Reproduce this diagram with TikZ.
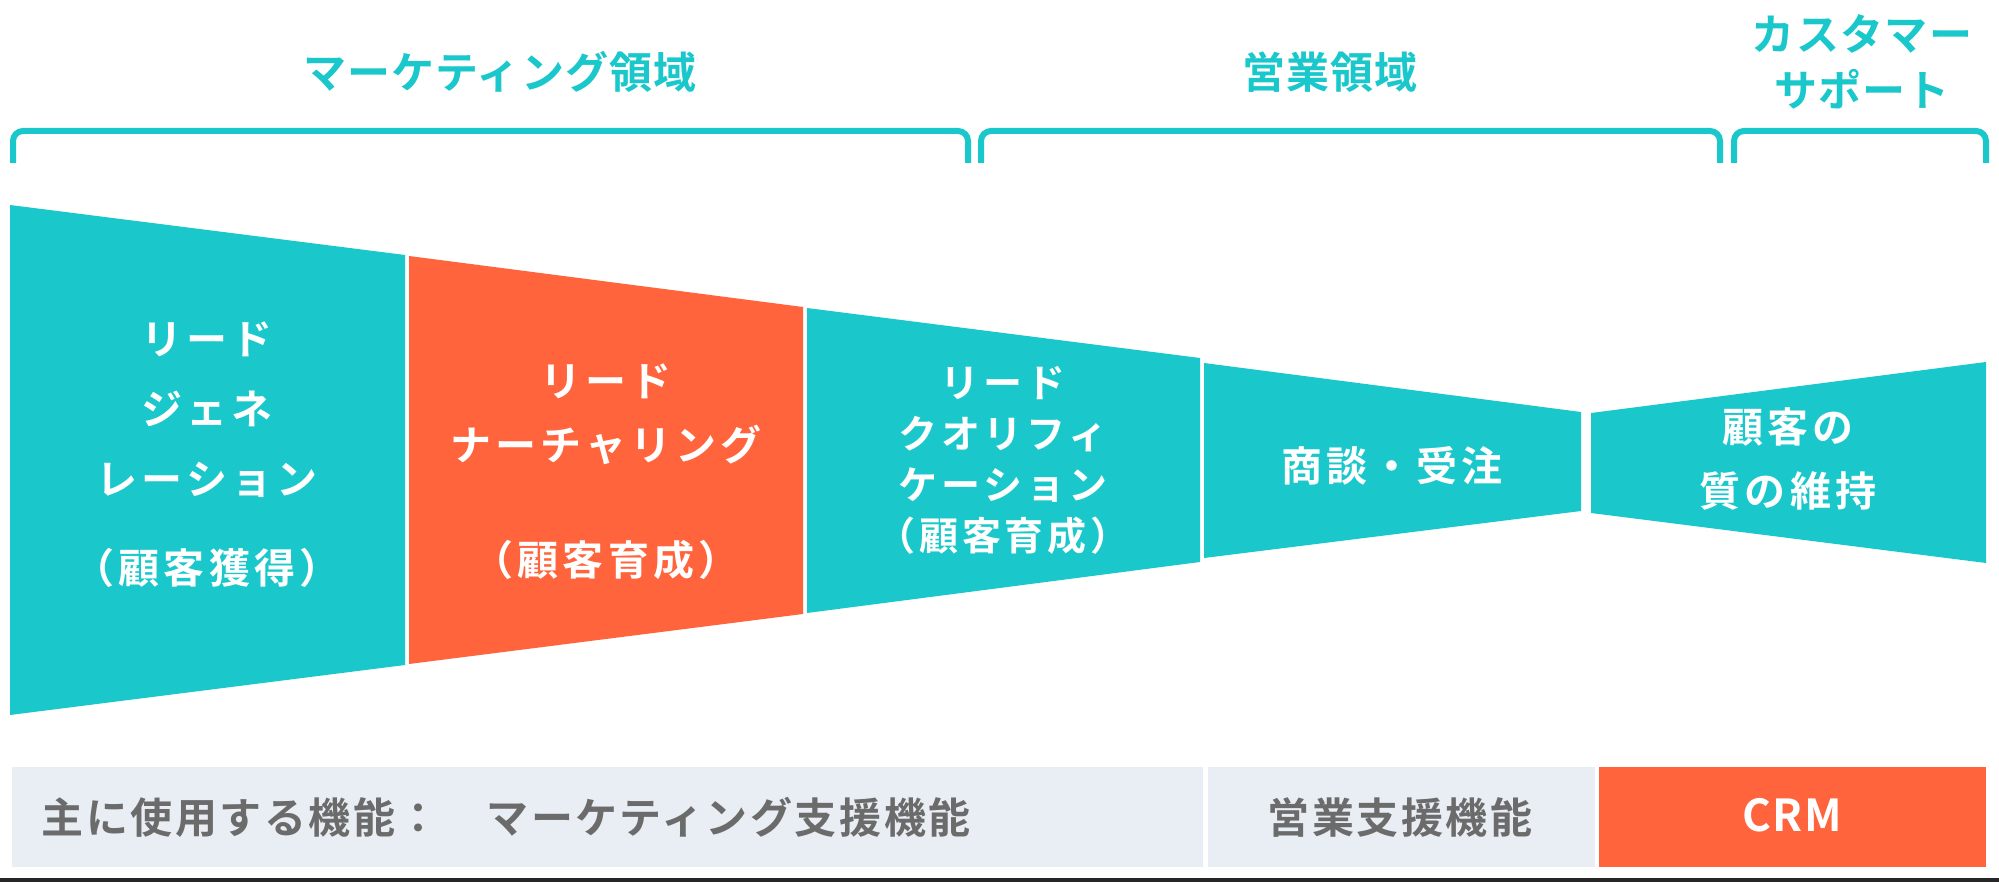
\documentclass[tikz,border=0pt]{standalone}
\usepackage{fontspec}
\setmainfont{Noto Sans CJK JP}[BoldFont={* Bold}]
\newfontfamily\jpb{Noto Sans CJK JP Bold}[LetterSpace=10]
\newfontfamily\jpt{Noto Sans CJK JP Bold}[LetterSpace=3]
\newfontfamily\jpw{Noto Sans CJK JP Bold}[LetterSpace=6]
\definecolor{teal}{HTML}{1AC8CC}
\definecolor{orng}{HTML}{FF643C}
\definecolor{barg}{HTML}{E9EEF4}
\definecolor{txtg}{HTML}{6B6B6B}
\begin{document}
\begin{tikzpicture}[x=1pt,y=-1pt,
  seg/.style={fill=teal,draw=none},
  lab/.style={text=white,font=\jpb\fontsize{41}{70}\selectfont,align=center},
  ttl/.style={text=teal,font=\jpt\fontsize{43}{56}\selectfont,align=center},
  brk/.style={draw=teal,line width=6pt,rounded corners=10pt},
  bar/.style={fill=barg,draw=none},
  btxt/.style={text=txtg,font=\jpw\fontsize{42}{48}\selectfont}]
\useasboundingbox[fill=white] (0,0) rectangle (1999,882);
% brackets
\draw[brk] (13,163) -- (13,131) -- (968,131) -- (968,163);
\draw[brk] (981,163) -- (981,131) -- (1720,131) -- (1720,163);
\draw[brk] (1734,163) -- (1734,131) -- (1986,131) -- (1986,163);
\node[ttl] (t1) at (500,72) {マーケティング領域};
\node[ttl] (t2) at (1330,72) {営業領域};
\node[ttl] (t3) at (1862,62) {カスタマー\\サポート};
% funnel
\fill[seg] (10,205) -- (405,255) -- (405,665) -- (10,715) -- cycle;
\fill[orng] (409,256) -- (803,307) -- (803,614) -- (409,664) -- cycle;
\fill[seg] (807,308) -- (1200,358) -- (1200,562) -- (807,613) -- cycle;
\fill[seg] (1204,363) -- (1581,412) -- (1581,511) -- (1204,558) -- cycle;
\fill[seg] (1591,413) -- (1986,362) -- (1986,563) -- (1591,513) -- cycle;
\node[lab] (s1) at (207,455) {リード\\ジェネ\\レーション\\[19pt]（顧客獲得）};
\node[lab,font=\jpb\fontsize{41}{64}\selectfont] (s2) at (606,472) {リード\\ナーチャリング\\[51pt]（顧客育成）};
\node[lab,font=\jpb\fontsize{39}{51}\selectfont] (s3) at (1003,460) {リード\\クオリフィ\\ケーション\\（顧客育成）};
\node[lab] (s4) at (1392,466) {商談・受注};
\node[lab,font=\jpb\fontsize{41}{64}\selectfont] (s5) at (1788,459) {顧客の\\質の維持};
% bottom bar
\fill[bar] (12,767) rectangle (1203,867);
\fill[bar] (1208,767) rectangle (1595,867);
\fill[orng] (1599,767) rectangle (1986,867);
\node[btxt,anchor=west] (b1) at (38,817) {主に使用する機能：　マーケティング支援機能};
\node[btxt] (b2) at (1400,817) {営業支援機能};
\node[text=white,font=\jpt\fontsize{44}{48}\selectfont] (b3) at (1792,815) {CRM};
\fill[black!85] (0,878) rectangle (1999,882);
\end{tikzpicture}
\end{document}
